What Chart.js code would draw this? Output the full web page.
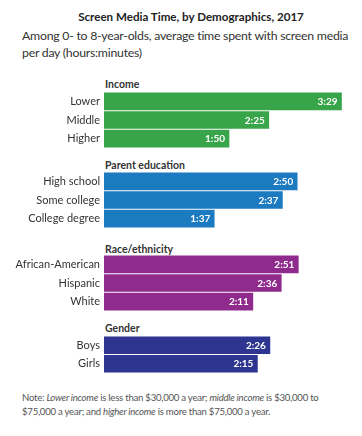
<!DOCTYPE html>
<html>
<head>
<meta charset="utf-8">
<script src="https://cdn.jsdelivr.net/npm/chart.js@4"></script>
<style>
  html, body { margin: 0; padding: 0; background: #fff; }
  body { width: 362px; height: 436px; position: relative; overflow: hidden; font-family: Lato, "Open Sans", sans-serif; color: #333; }
  .title { position: absolute; top: 10px; left: 0; width: 382px; text-align: center; font-weight: bold; font-size: 11.6px; color: #222; white-space: nowrap; }
  .sub { position: absolute; top: 27px; left: 22px; font-size: 12.3px; letter-spacing: -0.25px; line-height: 17px; color: #333; white-space: nowrap; }
  .head { position: absolute; left: 105px; font-weight: bold; font-size: 10.5px; color: #333; }
  canvas { position: absolute; left: 0; }
  .note { position: absolute; top: 391px; left: 22px; font-size: 9.6px; letter-spacing: -0.25px; line-height: 14px; color: #555; white-space: nowrap; }
  #probe { position: absolute; top: -100px; }
</style>
</head>
<body>
<div class="title">Screen Media Time, by Demographics, 2017</div>
<div class="sub">Among 0- to 8-year-olds, average time spent with screen media<br>per day (hours:minutes)</div>

<div class="head" style="top:78px">Income</div>
<canvas id="c1" width="362" height="56" style="top:92px"></canvas>
<div class="head" style="top:159px">Parent education</div>
<canvas id="c2" width="362" height="56" style="top:172px"></canvas>
<div class="head" style="top:243px">Race/ethnicity</div>
<canvas id="c3" width="362" height="56" style="top:255px"></canvas>
<div class="head" style="top:322px">Gender</div>
<canvas id="c4" width="362" height="37" style="top:336px"></canvas>

<div class="note">Note: <i>Lower income</i> is less than $30,000 a year; <i>middle income</i> is $30,000 to<br>$75,000 a year; and <i>higher income</i> is more than $75,000 a year.</div>

<script>
// minutes per day
const incomeLabels = ['Lower', 'Middle', 'Higher'];
const incomeMinutes = [209, 145, 110];   // 3:29, 2:25, 1:50

const educationLabels = ['High school', 'Some college', 'College degree'];
const educationMinutes = [170, 157, 97]; // 2:50, 2:37, 1:37

const raceLabels = ['African-American', 'Hispanic', 'White'];
const raceMinutes = [171, 156, 131];     // 2:51, 2:36, 2:11

const genderLabels = ['Boys', 'Girls'];
const genderMinutes = [146, 135];        // 2:26, 2:15

const xMax = 220;

function fmt(m) {
  const mm = m % 60;
  return Math.floor(m / 60) + ':' + (mm < 10 ? '0' : '') + mm;
}

// white h:mm label at the end of each bar
const valueLabels = {
  id: 'valueLabels',
  afterDatasetsDraw(chart) {
    const ctx = chart.ctx;
    const ds = chart.data.datasets[0];
    chart.getDatasetMeta(0).data.forEach((bar, i) => {
      ctx.save();
      ctx.fillStyle = '#fff';
      ctx.font = 'bold 10px Lato, sans-serif';
      ctx.textAlign = 'right';
      ctx.textBaseline = 'middle';
      ctx.fillText(fmt(ds.data[i]), bar.x - 4, bar.y + 0.5);
      ctx.restore();
    });
  }
};

function makeChart(id, labels, values, color) {
  const ctx = document.getElementById(id).getContext('2d');
  return new Chart(ctx, {
    type: 'bar',
    data: {
      labels: labels,
      datasets: [{
        data: values,
        backgroundColor: color,
        borderWidth: 0,
        barThickness: 17
      }]
    },
    options: {
      indexAxis: 'y',
      responsive: false,
      animation: false,
      layout: { padding: { left: 0, right: 8, top: 0, bottom: 0 } },
      plugins: { legend: { display: false }, tooltip: { enabled: false } },
      scales: {
        x: { display: false, min: 0, max: xMax },
        y: {
          afterFit(scale) {
            scale.width = 104;
            scale.paddingTop = 0;
            scale.paddingBottom = 0;
          },
          grid: { display: false, drawTicks: false },
          border: { display: false },
          ticks: {
            padding: 4,
            color: '#333',
            font: { family: 'Lato, sans-serif', size: 11 }
          }
        }
      }
    },
    plugins: [valueLabels]
  });
}

makeChart('c1', incomeLabels, incomeMinutes, '#38A54A');
makeChart('c2', educationLabels, educationMinutes, '#1C7BC0');
makeChart('c3', raceLabels, raceMinutes, '#8E2B8C');
makeChart('c4', genderLabels, genderMinutes, '#2E3590');
</script>
</body>
</html>
